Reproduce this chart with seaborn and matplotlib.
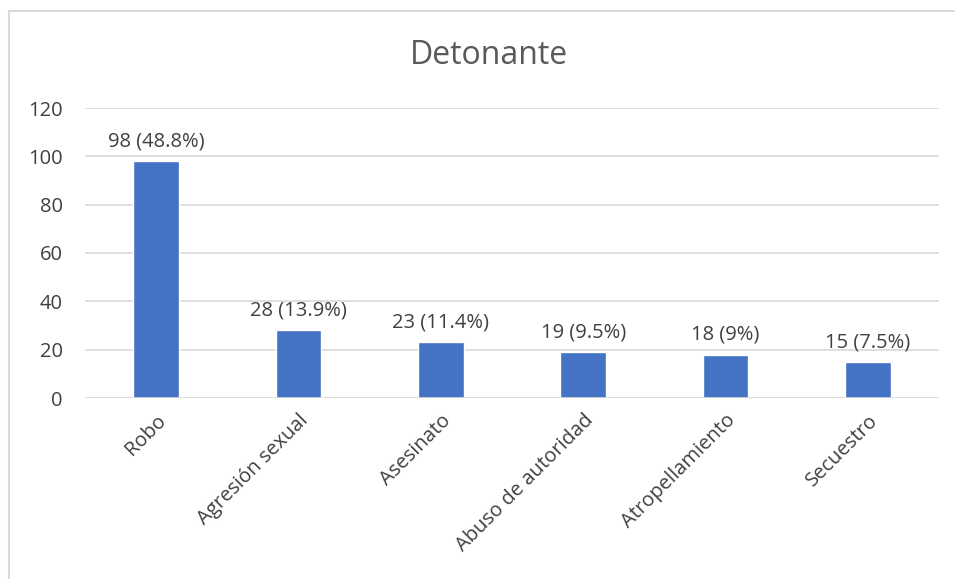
import matplotlib
matplotlib.use("Agg")
import matplotlib.pyplot as plt
import seaborn as sns
import pandas as pd
from matplotlib.patches import Rectangle

categories = ["Robo", "Agresión sexual", "Asesinato", "Abuso de autoridad", "Atropellamiento", "Secuestro"]
values = [98, 28, 23, 19, 18, 15]
labels = ["98 (48.8%)", "28 (13.9%)", "23 (11.4%)", "19 (9.5%)", "18 (9%)", "15 (7.5%)"]
yticks = [0, 20, 40, 60, 80, 100, 120]

sns.set_theme(style="white")
plt.rcParams["font.family"] = ["Open Sans", "DejaVu Sans"]

df = pd.DataFrame({"cat": categories, "val": values})

fig = plt.figure(figsize=(9.55, 5.79), dpi=100)
ax = fig.add_axes([85/955, 1-398/579, (939-85)/955, (398-108)/579])

sns.barplot(data=df, x="cat", y="val", color="#4472C4", width=0.32, saturation=1, ax=ax, zorder=3)

ax.set_ylim(0, 120)
ax.set_yticks(yticks)
ax.set_xlim(-0.5, len(categories)-0.5)
ax.yaxis.grid(True, color="#D9D9D9", linewidth=1.2, zorder=0)
ax.xaxis.grid(False)
for s in ax.spines.values():
    s.set_visible(False)
ax.axhline(0, color="#D9D9D9", linewidth=1.2, zorder=4)
ax.set_xlabel("")
ax.set_ylabel("")
ax.tick_params(axis="y", length=0, pad=16, labelsize=14.5, labelcolor="#404040")
ax.tick_params(axis="x", length=0, pad=9, labelsize=14.5, labelcolor="#404040")
plt.setp(ax.get_xticklabels(), rotation=45, ha="right", rotation_mode="anchor")

for i, (v, lab) in enumerate(zip(values, labels)):
    ax.annotate(lab, (i, v), xytext=(0, 7), textcoords="offset points",
                ha="center", va="bottom", fontsize=14.5, color="#404040")

fig.text(489/955, 1-55/579, "Detonante", ha="center", va="center", fontsize=23, color="#595959")

fig.patches.append(Rectangle((9/955, -0.1), 1.2, 1.1 - 11/579, transform=fig.transFigure,
                             fill=False, edgecolor="#D9D9D9", linewidth=1.5, zorder=0))

fig.savefig("out.png", dpi=100)
